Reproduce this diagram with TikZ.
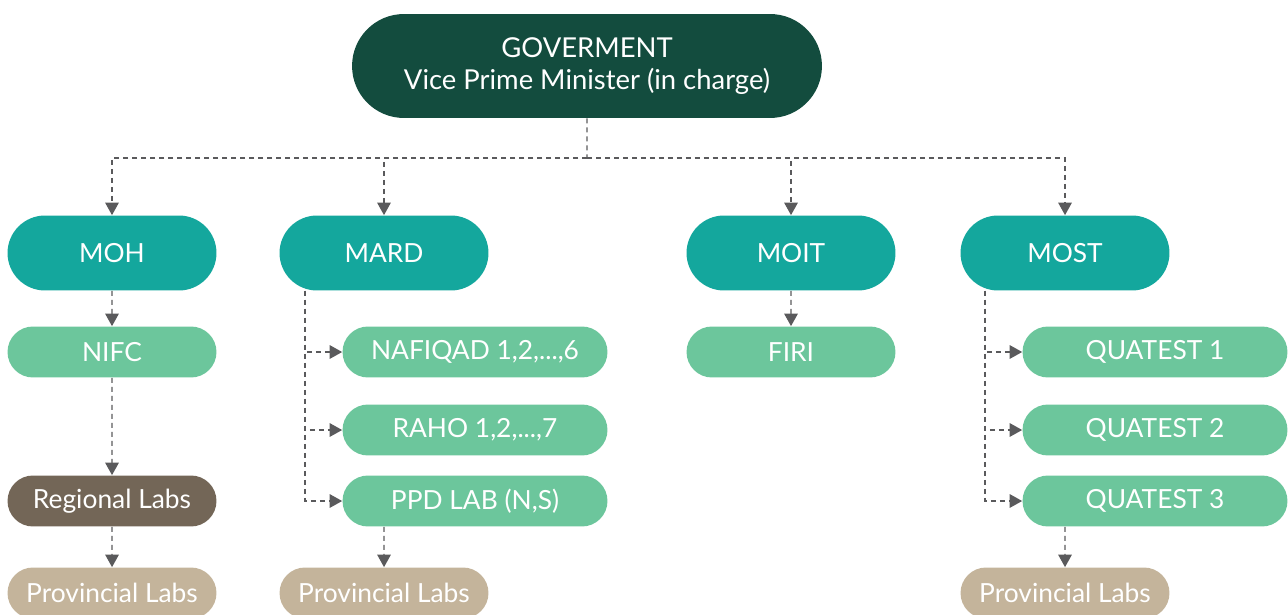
\documentclass[tikz,border=0pt]{standalone}
\usepackage{fontspec}
\setmainfont{Lato}
\usepackage{tikz}
\usetikzlibrary{shapes.misc,arrows.meta}
\definecolor{govgreen}{HTML}{134C3E}
\definecolor{minteal}{HTML}{14A79D}
\definecolor{labgreen}{HTML}{6CC69C}
\definecolor{regbrown}{HTML}{736657}
\definecolor{provtan}{HTML}{C4B49B}
\definecolor{linkgray}{HTML}{5A5A5C}

\begin{document}
\begin{tikzpicture}[x=0.02cm, y=-0.02cm,
	box/.style={rounded rectangle, inner sep=0pt, text=white, font=\fontsize{15}{18}\selectfont},
	ministry/.style={box, fill=minteal, minimum width=4.18cm, minimum height=1.5cm},
	lab/.style={box, fill=labgreen, minimum width=4.18cm, minimum height=1.02cm},
	widelab/.style={lab, minimum width=5.3cm},
	link/.style={->, >={Triangle[length=0.25cm,width=0.27cm]}, draw=linkgray, line width=0.8pt, dash pattern=on 0.1cm off 0.08cm}]
	\useasboundingbox (0,0) rectangle (1288,615);

	\node [box, fill=govgreen, minimum width=9.4cm, minimum height=2.08cm, align=center, font=\fontsize{15.6}{18.5}\selectfont] (gov) at (587,66) {GOVERMENT\\Vice Prime Minister (in charge)};
	\coordinate (bus) at (587,158);

	\node [ministry] (moh) at (112,253) {MOH};
	\node [ministry] (mard) at (384,253) {MARD};
	\node [ministry] (moit) at (791,253) {MOIT};
	\node [ministry] (most) at (1065,253) {MOST};

	\draw [link, -] (gov) -- (bus);
	\draw [link] (bus) -| (moh);
	\draw [link] (bus) -| (mard);
	\draw [link] (bus) -| (moit);
	\draw [link] (bus) -| (most);

	% MOH branch
	\node [lab] (nifc) at (112,352) {NIFC};
	\node [lab, fill=regbrown] (regional) at (112,501) {Regional Labs};
	\node [lab, fill=provtan] (provmoh) at (112,593) {Provincial Labs};
	\draw [link] (moh) -- (nifc);
	\draw [link] (nifc) -- (regional);
	\draw [link] (regional) -- (provmoh);

	% MARD branch
	\node [widelab] (nafiqad) at (475,352) {NAFIQAD 1,2,...,6};
	\node [widelab] (raho) at (475,430) {RAHO 1,2,...,7};
	\node [widelab] (ppd) at (475,501) {PPD LAB (N,S)};
	\node [lab, fill=provtan] (provmard) at (384,593) {Provincial Labs};
	\draw [link] ([xshift=-1.58cm] mard.south) |- (nafiqad);
	\draw [link] ([xshift=-1.58cm] mard.south) |- (raho);
	\draw [link] ([xshift=-1.58cm] mard.south) |- (ppd);
	\draw [link] ([xshift=-1.82cm] ppd.south) -- (provmard);

	% MOIT branch
	\node [lab] (firi) at (791,352) {FIRI};
	\draw [link] (moit) -- (firi);

	% MOST branch
	\node [widelab] (quatest1) at (1155,352) {QUATEST 1};
	\node [widelab] (quatest2) at (1155,430) {QUATEST 2};
	\node [widelab] (quatest3) at (1155,501) {QUATEST 3};
	\node [lab, fill=provtan] (provmost) at (1065,593) {Provincial Labs};
	\draw [link] ([xshift=-1.6cm] most.south) |- (quatest1);
	\draw [link] ([xshift=-1.6cm] most.south) |- (quatest2);
	\draw [link] ([xshift=-1.6cm] most.south) |- (quatest3);
	\draw [link] ([xshift=-1.8cm] quatest3.south) -- (provmost);
\end{tikzpicture}
\end{document}
